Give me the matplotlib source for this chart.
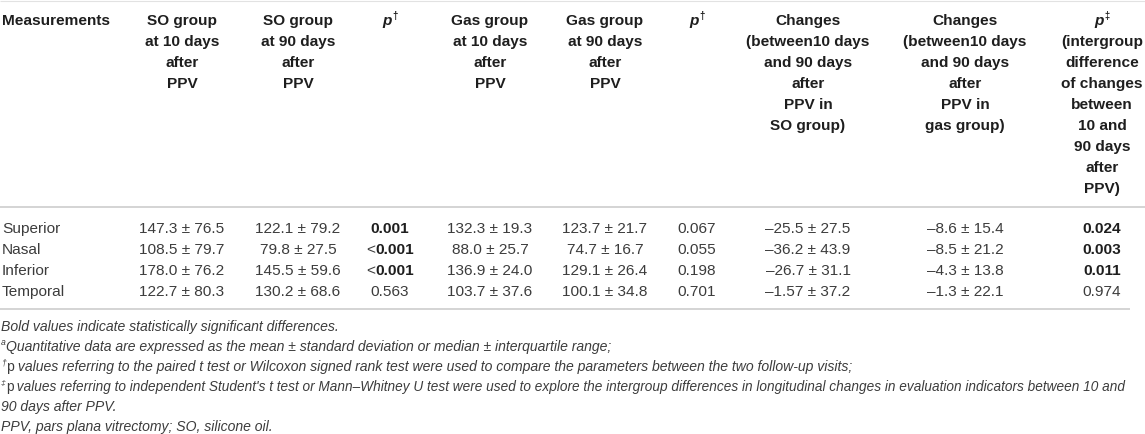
import matplotlib
matplotlib.use("Agg")
import matplotlib.pyplot as plt

plt.rcParams['font.family'] = ['Liberation Sans', 'DejaVu Sans']

# ------------------------------------------------
# Table data
# ------------------------------------------------
regions = ["Superior", "Nasal", "Inferior", "Temporal"]
so_10 = ["147.3 ± 76.5", "108.5 ± 79.7", "178.0 ± 76.2", "122.7 ± 80.3"]
so_90 = ["122.1 ± 79.2", "79.8 ± 27.5", "145.5 ± 59.6", "130.2 ± 68.6"]
p_so = ["0.001", "<0.001", "<0.001", "0.563"]
gas_10 = ["132.3 ± 19.3", "88.0 ± 25.7", "136.9 ± 24.0", "103.7 ± 37.6"]
gas_90 = ["123.7 ± 21.7", "74.7 ± 16.7", "129.1 ± 26.4", "100.1 ± 34.8"]
p_gas = ["0.067", "0.055", "0.198", "0.701"]
chg_so = ["–25.5 ± 27.5", "–36.2 ± 43.9", "–26.7 ± 31.1", "–1.57 ± 37.2"]
chg_gas = ["–8.6 ± 15.4", "–8.5 ± 21.2", "–4.3 ± 13.8", "–1.3 ± 22.1"]
p_inter = ["0.024", "0.003", "0.011", "0.974"]

headers = [
    ["Measurements"],
    ["SO group", "at 10 days", "after", "PPV"],
    ["SO group", "at 90 days", "after", "PPV"],
    [("p", "†")],
    ["Gas group", "at 10 days", "after", "PPV"],
    ["Gas group", "at 90 days", "after", "PPV"],
    [("p", "†")],
    ["Changes", "(between10 days", "and 90 days", "after", "PPV in", "SO group)"],
    ["Changes", "(between10 days", "and 90 days", "after", "PPV in", "gas group)"],
    [("p", "‡"), "(intergroup", "difference", "of changes", "between", "10 and",
     "90 days", "after", "PPV)"],
]

# footnotes: (superscript mark, text)
footnotes = [
    ("", "Bold values indicate statistically significant differences."),
    ("a", "Quantitative data are expressed as the mean ± standard deviation or median ± interquartile range;"),
    ("†", "p values referring to the paired t test or Wilcoxon signed rank test were used to compare the parameters between the two follow-up visits;"),
    ("‡", "p values referring to independent Student's t test or Mann–Whitney U test were used to explore the intergroup differences in longitudinal changes in evaluation indicators between 10 and"),
    ("", "90 days after PPV."),
    ("", "PPV, pars plana vitrectomy; SO, silicone oil."),
]

columns = [regions, so_10, so_90, p_so, gas_10, gas_90, p_gas, chg_so, chg_gas, p_inter]
p_columns = [3, 6, 9]

# ------------------------------------------------
# Layout (pixel coordinates)
# ------------------------------------------------
W, H = 1145, 434
col_x = [2, 182, 298, 390, 490, 605, 697, 808, 965, 1102]
head_base0, head_step = 25, 21
row_base0, row_step = 233, 21
foot_base0, foot_step = 331, 20
fs = 11.1       # header / body size (pt)
fs_foot = 10.1  # footnote size (pt)
dark = '#1e1e1e'
body = '#3c3c3c'
rule = '#c9c9c9'

fig = plt.figure(figsize=(W / 100, H / 100), dpi=100)
ax = fig.add_axes([0, 0, 1, 1])
ax.set_xlim(0, W)
ax.set_ylim(H, 0)
ax.axis('off')
renderer = fig.canvas.get_renderer()


def put(x, y, parts, ha='center'):
    """Lay out several styled pieces of text on one baseline."""
    objs = []
    for s, kw in parts:
        kw = dict(kw)
        dy = kw.pop('dy', 0)
        t = ax.text(0, y + dy, s, va='baseline', ha='left', **kw)
        objs.append(t)
    widths = [t.get_window_extent(renderer).width for t in objs]
    total = sum(widths)
    if ha == 'center':
        start = x - total / 2
    elif ha == 'right':
        start = x - total
    else:
        start = x
    for t, w in zip(objs, widths):
        t.set_x(start)
        start += w
    return total


# Rules
ax.plot([0, W], [0.5, 0.5], color='#e2e2e2', lw=0.8, solid_capstyle='butt')
ax.plot([0, W], [207, 207], color=rule, lw=1.1, solid_capstyle='butt')
ax.plot([0, 1130], [309, 309], color=rule, lw=1.1, solid_capstyle='butt')

# Header
for ci, lines in enumerate(headers):
    ha = 'left' if ci == 0 else 'center'
    for li, line in enumerate(lines):
        y = head_base0 + li * head_step
        if isinstance(line, tuple):
            put(col_x[ci], y, [
                (line[0], dict(fontsize=fs, fontweight='bold', fontstyle='italic', color=dark)),
                (line[1], dict(fontsize=fs * 0.62, fontweight='bold', color=dark, dy=-6)),
            ], ha=ha)
        else:
            put(col_x[ci], y, [(line, dict(fontsize=fs, fontweight='bold', color=dark))], ha=ha)

# Body
for ci, values in enumerate(columns):
    ha = 'left' if ci == 0 else 'center'
    for ri, val in enumerate(values):
        y = row_base0 + ri * row_step
        if ci in p_columns:
            num = float(val.lstrip('<'))
            bold = num < 0.05
            style = dict(fontsize=fs, color=dark if bold else body,
                         fontweight='bold' if bold else 'normal')
            if val.startswith('<'):
                put(col_x[ci], y, [('<', dict(fontsize=fs, color=body)),
                                   (val[1:], style)], ha=ha)
            else:
                put(col_x[ci], y, [(val, style)], ha=ha)
        else:
            put(col_x[ci], y, [(val, dict(fontsize=fs, color=body))], ha=ha)

# Footnotes
for fi, (mark, text) in enumerate(footnotes):
    y = foot_base0 + fi * foot_step
    parts = []
    if mark:
        parts.append((mark, dict(fontsize=fs_foot * 0.62, fontstyle='italic', color=body, dy=-6)))
    size = fs_foot
    if text.startswith('p '):
        parts.append(('p', dict(fontsize=size, color=body)))
        parts.append((text[1:], dict(fontsize=size, fontstyle='italic', color=body)))
    else:
        parts.append((text, dict(fontsize=size, fontstyle='italic', color=body)))
    total = put(1, y, parts, ha='left')
    # the long justified line is set tighter in the reference
    if total > 1116:
        for t in ax.texts[-len(parts):]:
            t.remove()
        scale = 1116 / total
        parts = [(s, dict(kw, fontsize=kw['fontsize'] * scale)) for s, kw in parts]
        put(1, y, parts, ha='left')

fig.savefig('out.png', dpi=100)
